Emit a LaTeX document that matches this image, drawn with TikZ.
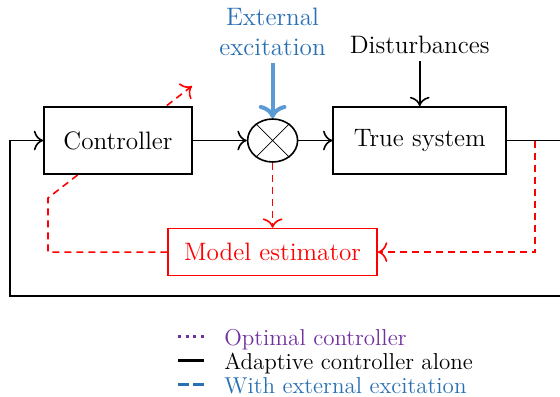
\documentclass[tikz,border=0pt,11pt]{standalone}
\usepackage{xcolor}
\usepackage{tikz}
\usetikzlibrary{shapes.geometric, arrows.meta, positioning, backgrounds, calc}
\definecolor{excblue}{RGB}{40,112,180}
\definecolor{arrowblue}{RGB}{91,155,213}
\definecolor{optpurple}{RGB}{112,48,160}
\definecolor{estred}{RGB}{255,0,0}
\newcommand{\diagfont}{\fontsize{12.6}{15}\selectfont}
\newcommand{\legfont}{\fontsize{11.5}{14}\selectfont}
\tikzset{
  block/.style={rectangle, draw, thick, fill=white, font=\diagfont,
    minimum height=33.5pt},
  mixer/.style={ellipse, draw, thick, fill=white, minimum width=25pt,
    minimum height=21.5pt, inner sep=0pt},
  estblock/.style={rectangle, draw=estred, thick, fill=white, text=estred,
    font=\diagfont, minimum width=104.5pt, minimum height=23.5pt},
  sig/.style={-{To[scale=1.4]}, thick},
  estarrow/.style={-{To[scale=1.4]}, thick, draw=estred,
    dash pattern=on 3.5pt off 2.5pt},
  excarrow/.style={-{To[scale=1.1]}, line width=2pt, draw=arrowblue},
  legtext/.style={anchor=base west, inner sep=0pt, font=\legfont},
  optkey/.style={line width=1.5pt, draw=optpurple, dash pattern=on 1.5pt off 2.3pt},
  adakey/.style={line width=1.5pt},
  exckey/.style={line width=1.5pt, draw=excblue, dash pattern=on 5.5pt off 2pt},
}

\begin{document}
\begin{tikzpicture}
  \useasboundingbox (0,0) rectangle (280pt,-198pt);
  \clip (0,0) rectangle (280pt,-198pt);
  % loop blocks
  \node[block, minimum width=74pt] (ctrl) at (59pt,-70.25pt) {Controller};
  \node[mixer, right=27pt of ctrl] (mix) {};
  \draw[thin] (mix.45) -- (mix.225) (mix.135) -- (mix.315);
  \node[block, minimum width=86.5pt, right=17pt of mix] (sys) {True system};
  \node[estblock, below=32.5pt of mix] (est) {Model estimator};
  % inputs
  \node[font=\diagfont, text=excblue, align=center, above=27.5pt of mix] (exc)
    {External\\excitation};
  \node[font=\diagfont, above=22.5pt of sys] (dist) {Disturbances};
  % helper points
  \coordinate (tapE) at ([xshift=14pt]sys.east);
  \coordinate (outR) at ([xshift=40pt]sys.east);
  \coordinate (botL) at (5pt,-148pt);
  \coordinate (adL) at (24pt,-99pt);
  \coordinate (adR) at (96pt,-43pt);
  % signal flow
  \draw[sig] (ctrl) -- (mix);
  \draw[sig] (mix) -- (sys);
  \draw[sig] (dist.south) -- (sys.north);
  \draw[excarrow] (exc.south) -- (mix.north);
  \draw[sig] (sys.east) -- (outR) |- (botL) |- (ctrl.west);
  % estimation
  \draw[estarrow] (mix.south) -- (est.north);
  \draw[estarrow] (tapE) |- (est.east);
  \begin{scope}[on background layer]
    \draw[estarrow] (est.west) -| (adL) -- (adR);
  \end{scope}
  % legend
  \node[legtext, text=optpurple] (lgopt) at (112pt,-172.5pt) {Optimal controller};
  \node[legtext] (lgada) at (112pt,-184.5pt) {Adaptive controller alone};
  \node[legtext, text=excblue] (lgexc) at (112pt,-196.5pt) {With external excitation};
  \draw[optkey] ([xshift=-23pt,yshift=4.5pt]lgopt.base west) -- ++(13pt,0);
  \draw[adakey] ([xshift=-23pt,yshift=4.5pt]lgada.base west) -- ++(13pt,0);
  \draw[exckey] ([xshift=-23pt,yshift=4.5pt]lgexc.base west) -- ++(13pt,0);
\end{tikzpicture}
\end{document}
